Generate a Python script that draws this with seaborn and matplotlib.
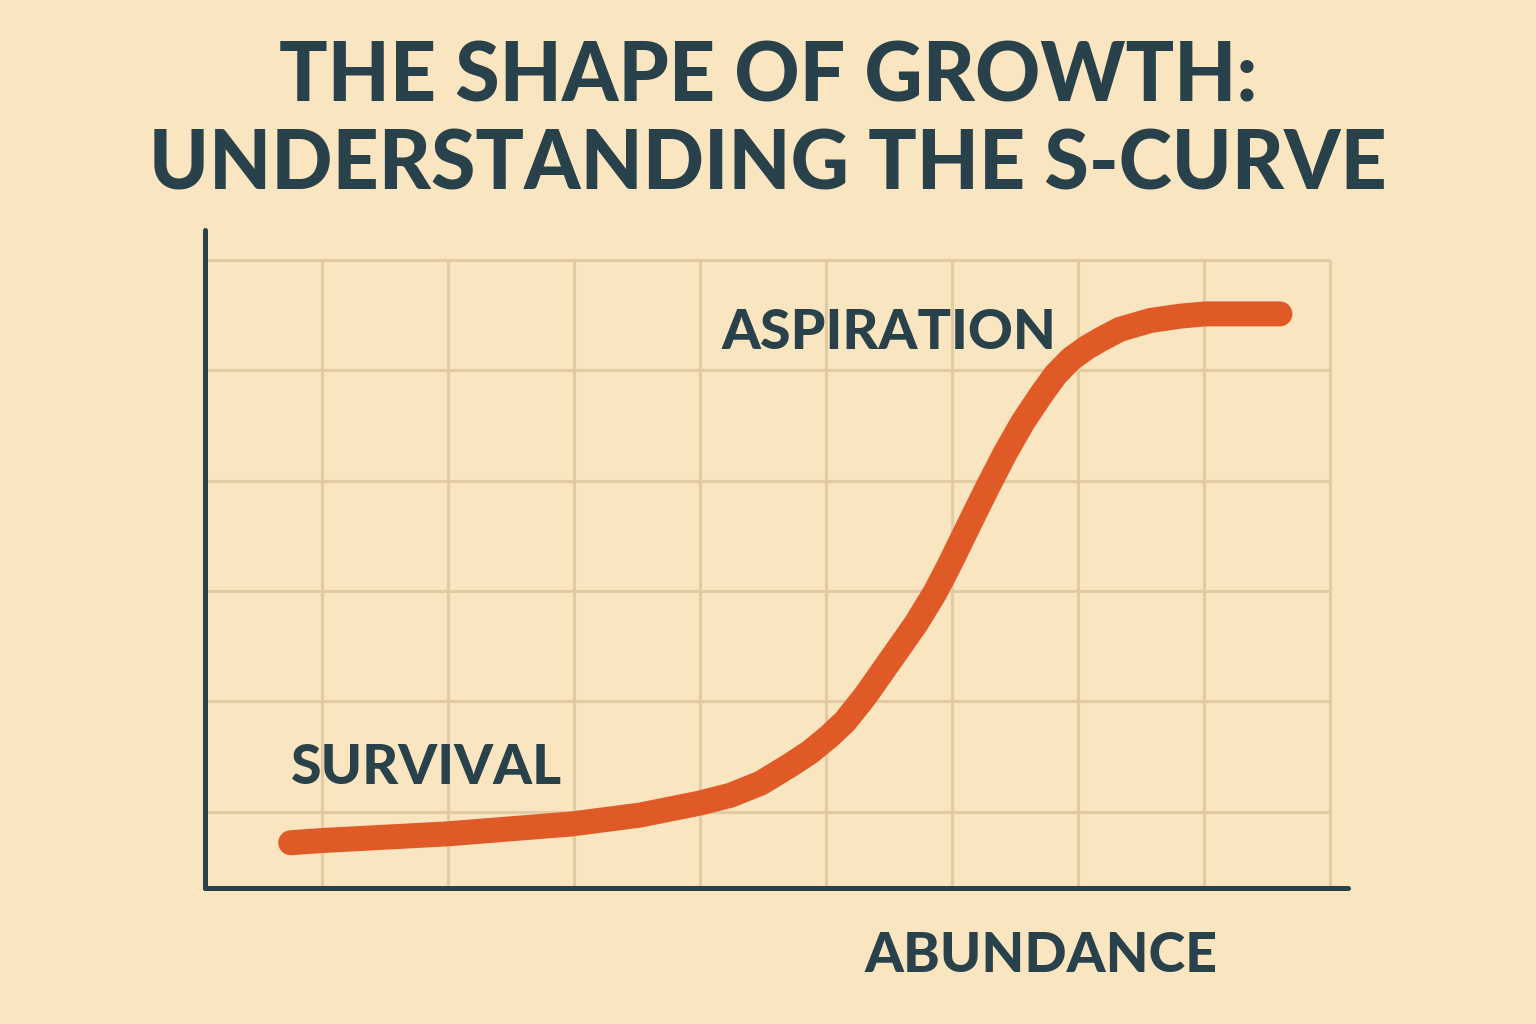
import matplotlib
matplotlib.use("Agg")
import matplotlib.pyplot as plt
import seaborn as sns
import pandas as pd

# curve, in grid units (grid lines at 1..9 and 1..6)
effort = [0.75, 1.00, 1.99, 2.98, 3.52, 4.00, 4.24, 4.48, 4.71, 4.87,
          5.02, 5.15, 5.31, 5.55, 5.71, 5.86, 5.97, 6.06, 6.18, 6.28,
          6.42, 6.56, 6.70, 6.82, 6.94, 7.06, 7.18, 7.33, 7.57, 7.81,
          8.01, 8.60]
growth = [0.72, 0.74, 0.80, 0.89, 0.97, 1.08, 1.15, 1.26, 1.42, 1.54,
          1.68, 1.82, 2.05, 2.44, 2.70, 2.98, 3.22, 3.43, 3.71, 3.94,
          4.25, 4.53, 4.77, 4.96, 5.10, 5.20, 5.28, 5.37, 5.45, 5.49,
          5.51, 5.51]

grid_x = [1, 2, 3, 4, 5, 6, 7, 8, 9]
grid_y = [1, 2, 3, 4, 5, 6]

title = "THE SHAPE OF GROWTH:\nUNDERSTANDING THE S-CURVE"
stage_labels = ["SURVIVAL", "ASPIRATION", "ABUNDANCE"]

BG = "#F9E5BF"
INK = "#28414A"
ORANGE = "#E05A28"
GRID = "#E2CBA3"

df = pd.DataFrame({"effort": effort, "growth": growth})

sns.set_theme(style="white")
plt.rcParams["font.family"] = ["Lato", "DejaVu Sans"]

fig = plt.figure(figsize=(15.36, 10.24), dpi=100, facecolor=BG)
ax = fig.add_axes([205 / 1536, 136 / 1024, 1143 / 1536, 658 / 1024])
ax.set_facecolor(BG)

x0, x1 = 0.07, 9.14
y0, y1 = 0.31, 6.27
ax.set_xlim(x0, x1)
ax.set_ylim(y0, y1)

# grid only up to the last line, like the drawing
ax.vlines(grid_x, y0, grid_y[-1], color=GRID, lw=2.2, zorder=1)
ax.hlines(grid_y, x0, grid_x[-1], color=GRID, lw=2.2, zorder=1)

sns.lineplot(data=df, x="effort", y="growth", ax=ax, color=ORANGE,
             linewidth=18, estimator=None, solid_capstyle="round",
             solid_joinstyle="round", zorder=3)

for side in ["top", "right"]:
    ax.spines[side].set_visible(False)
for side in ["left", "bottom"]:
    ax.spines[side].set_color(INK)
    ax.spines[side].set_linewidth(3.6)
    ax.spines[side].set_capstyle("round")
ax.set_xticks([])
ax.set_yticks([])
ax.set_xlabel("")
ax.set_ylabel("")

ax.text(0.75, 1.40, stage_labels[0], color=INK, fontsize=40,
        fontweight="black", ha="left", va="center")
ax.text(4.17, 5.34, stage_labels[1], color=INK, fontsize=40,
        fontweight="black", ha="left", va="center")
fig.text(1041 / 1536, 1 - 956 / 1024, stage_labels[2], color=INK,
         fontsize=40, fontweight="black", ha="center", va="center")

fig.text(0.5, 1 - 122 / 1024, title, color=INK, fontsize=58,
         fontweight="black", ha="center", va="center", linespacing=1.2)

fig.savefig("out.png", dpi=100, facecolor=BG)
